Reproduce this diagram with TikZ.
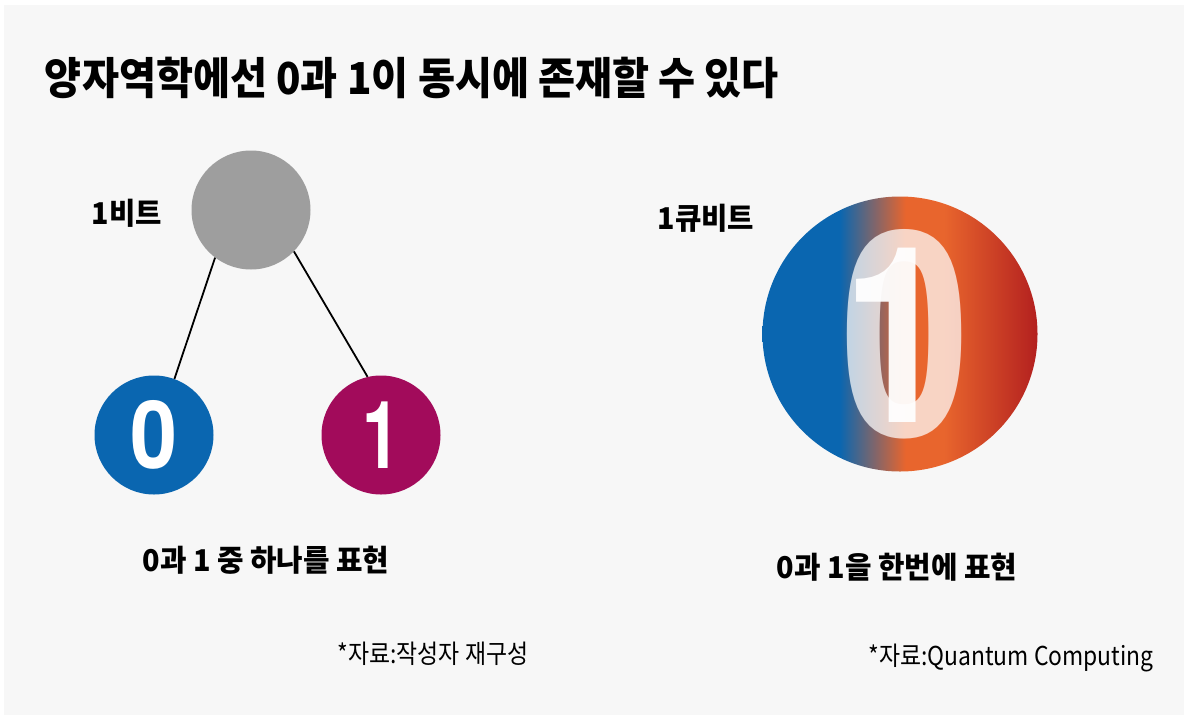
\documentclass[tikz,border=0pt]{standalone}
\usepackage{fontspec}
\setmainfont{Noto Sans CJK KR}
\newfontfamily\digitfont{texgyreheros}[Extension=.otf, UprightFont=*-regular, BoldFont=*-bold]
\usepackage{graphicx}
\usepackage{tikz}
\usetikzlibrary{positioning}

\definecolor{paper}{HTML}{F7F7F7}
\definecolor{bitgray}{HTML}{9E9E9E}
\definecolor{bitblue}{HTML}{0A66B0}
\definecolor{bitred}{HTML}{A20B5B}
\definecolor{qorange}{HTML}{E8652D}
\definecolor{qred}{HTML}{B3201F}
\pgfdeclarehorizontalshading{qubitshade}{100bp}{color(0bp)=(bitblue); color(39bp)=(bitblue);
  color(51bp)=(qorange); color(58bp)=(qorange); color(75bp)=(qred); color(100bp)=(qred)}
\newcommand{\narrow}[2]{\scalebox{#1}[1]{#2}}

\begin{document}
\begin{tikzpicture}[x=1pt, y=-1pt,
  ball/.style={circle, inner sep=0pt, minimum size=119pt, text=white,
    font=\digitfont\bfseries\fontsize{94}{94}\selectfont},
  lbl/.style={font=\fontsize{30}{32}\selectfont\bfseries},
  src/.style={font=\fontsize{26}{28}\selectfont}]
  \useasboundingbox (0,0) rectangle (1188,720);
  \fill[white] (0,0) rectangle (1188,720);
  \fill[paper] (4,5) rectangle (1184,715);
  \node[font=\fontsize{44}{46}\selectfont\bfseries] (title) at (412,78)
    {\narrow{0.915}{양자역학에선 0과 1이 동시에 존재할 수 있다}};
  % bit side
  \node[ball, fill=bitgray] (bit) at (251,210) {};
  \node[ball, fill=bitblue] (zero) at (154,435) {\narrow{0.9}{0}};
  \node[ball, fill=bitred] (one) at (381,435) {\narrow{0.72}{1}};
  \draw[line width=1.8pt] (bit.233) -- (zero.70);
  \draw[line width=1.8pt] (bit.316) -- (one.103);
  \node[lbl] (bitlbl) at (127,213) {\narrow{0.955}{1비트}};
  \node[lbl] (bitcap) at (266,560) {\narrow{0.96}{0과 1 중 하나를 표현}};
  \node[src] (bitsrc) at (433,654) {\narrow{0.88}{*자료:작성자 재구성}};
  % qubit side
  \node[circle, inner sep=0pt, minimum size=275pt, shade, shading=qubitshade] (qubit) at (900,334) {};
  \node[text=white, text opacity=0.72, font=\digitfont\bfseries\fontsize{286}{286}\selectfont]
    (qzero) at (906,334) {\narrow{0.82}{0}};
  \node[text=white, text opacity=0.95, font=\digitfont\bfseries\fontsize{246}{246}\selectfont]
    (qone) at (897,335) {\narrow{0.78}{1}};
  \node[lbl] (qlbl) at (706,218) {\narrow{0.955}{1큐비트}};
  \node[lbl] (qcap) at (897,567) {\narrow{0.96}{0과 1을 한번에 표현}};
  \node[src] (qsrc) at (1011,658) {\narrow{0.88}{*자료:Quantum Computing}};
\end{tikzpicture}
\end{document}
